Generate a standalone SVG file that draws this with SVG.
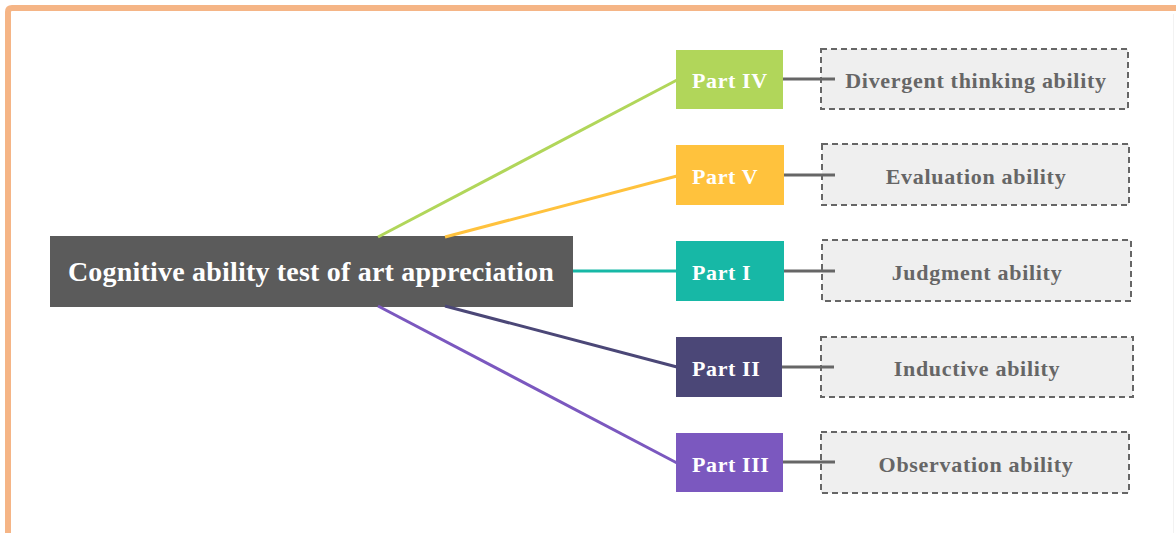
<svg xmlns="http://www.w3.org/2000/svg" width="1176" height="533" viewBox="0 0 1176 533">
<style>
.part{font-family:"Liberation Serif","Times New Roman",serif;font-weight:bold;font-size:22px;letter-spacing:0.6px;fill:#ffffff}
.leaf rect{fill:#efefef;stroke:#666666;stroke-width:2;stroke-dasharray:6 4}
.leaf text{font-family:"Liberation Serif","Times New Roman",serif;font-weight:bold;font-size:22px;letter-spacing:0.7px;fill:#666666;text-anchor:middle}
.tick{stroke:#666666;stroke-width:3}
</style>
<rect width="1176" height="533" fill="#ffffff"/>
<path d="M8 533 V12 Q8 8 12 8 H1176" fill="none" stroke="#f5b586" stroke-width="6"/>
<line x1="1173.5" y1="14" x2="1173.5" y2="533" stroke="#f2f2f2" stroke-width="1"/>
<g id="root">
<rect x="50" y="236" width="523" height="71" fill="#5b5b5b"/>
<text x="311" y="281" text-anchor="middle" font-family="'Liberation Serif','Times New Roman',serif" font-weight="bold" font-size="28" letter-spacing="0.2" fill="#ffffff">Cognitive ability test of art appreciation</text>
</g>
<g id="part4"><rect x="676" y="50" width="107" height="59" fill="#b1d65a"/><text class="part" x="692" y="88">Part IV</text></g>
<g id="part5"><rect x="676" y="145" width="108" height="60" fill="#ffc23d"/><text class="part" x="692" y="184">Part V</text></g>
<g id="part1"><rect x="676" y="241" width="108" height="60" fill="#17b8a6"/><text class="part" x="692" y="280">Part I</text></g>
<g id="part2"><rect x="676" y="337" width="106" height="60" fill="#4b4777"/><text class="part" x="692" y="376">Part II</text></g>
<g id="part3"><rect x="676" y="433" width="107" height="59" fill="#7b58bf"/><text class="part" x="692" y="472">Part III</text></g>
<g id="leaf4" class="leaf"><rect x="821" y="49" width="307" height="60"/><text x="976" y="88">Divergent thinking ability</text></g>
<g id="leaf5" class="leaf"><rect x="822" y="144" width="307" height="61"/><text x="976" y="184">Evaluation ability</text></g>
<g id="leaf1" class="leaf"><rect x="822" y="240" width="309" height="61"/><text x="977" y="280">Judgment ability</text></g>
<g id="leaf2" class="leaf"><rect x="821" y="337" width="312" height="60"/><text x="977" y="376">Inductive ability</text></g>
<g id="leaf3" class="leaf"><rect x="821" y="432" width="308" height="61"/><text x="976" y="472">Observation ability</text></g>
<g id="connectors" fill="none" stroke-width="3">
<line x1="378" y1="237" x2="677" y2="80" stroke="#b1d65a"/>
<line x1="445" y1="237" x2="677" y2="176" stroke="#ffc23d"/>
<line x1="573" y1="271" x2="677" y2="271" stroke="#17b8a6"/>
<line x1="445" y1="306" x2="677" y2="367" stroke="#4b4777"/>
<line x1="378" y1="306" x2="677" y2="463" stroke="#7b58bf"/>
<line class="tick" x1="783" y1="79" x2="835" y2="79"/>
<line class="tick" x1="784" y1="175" x2="835" y2="175"/>
<line class="tick" x1="784" y1="271" x2="835" y2="271"/>
<line class="tick" x1="782" y1="367" x2="834" y2="367"/>
<line class="tick" x1="783" y1="462" x2="835" y2="462"/>
</g>
</svg>
